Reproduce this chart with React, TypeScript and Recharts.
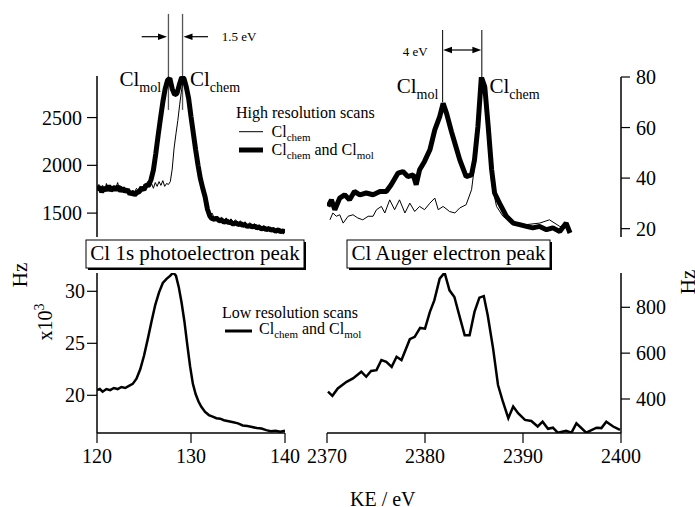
import React from 'react';
import { LineChart, Line, XAxis, YAxis, ReferenceLine } from 'recharts';

const FONT = '"Liberation Serif", "Times New Roman", serif';
const W = 695;
const H = 507;

// ---- categories / axes ----
const photoXTicks = [120, 130, 140];
const augerXTicks = [2370, 2380, 2390, 2400];
const hiPhotoYTicks = [1500, 2000, 2500];
const hiAugerYTicks = [20, 40, 60, 80];
const loPhotoYTicks = [20, 25, 30];
const loAugerYTicks = [400, 600, 800];

// ---- High resolution, Cl 1s photoelectron (KE eV, Hz) ----
const hiPhotoBoth: [number, number][] = [
  [120.0, 1740], [120.25, 1775], [120.5, 1720], [120.75, 1765], [121.0, 1740], [121.25, 1785],
  [121.5, 1735], [121.75, 1770], [122.0, 1745], [122.25, 1780], [122.5, 1730], [122.75, 1760],
  [123.0, 1725], [123.25, 1745], [123.5, 1700], [123.75, 1720], [124.0, 1690], [124.25, 1715],
  [124.5, 1725], [124.75, 1765], [125.0, 1745], [125.25, 1795], [125.5, 1790], [125.75, 1850],
  [126.0, 1950], [126.25, 2120], [126.5, 2310], [126.75, 2490], [127.0, 2660], [127.25, 2800],
  [127.5, 2890], [127.75, 2910], [128.0, 2800], [128.25, 2740], [128.5, 2750], [128.75, 2840],
  [129.0, 2920], [129.25, 2910], [129.5, 2820], [129.75, 2700], [130.0, 2510], [130.25, 2335],
  [130.5, 2160], [130.75, 2000], [131.0, 1860], [131.25, 1760], [131.5, 1670], [131.75, 1540],
  [132.0, 1470], [132.2, 1445], [132.5, 1435], [132.7, 1450], [133.0, 1420], [133.3, 1425],
  [133.5, 1405], [133.8, 1420], [134.0, 1400], [134.2, 1405], [134.5, 1385], [134.8, 1400],
  [135.0, 1380], [135.3, 1390], [135.5, 1370], [135.7, 1380], [136.0, 1360], [136.3, 1370],
  [136.5, 1355], [136.8, 1365], [137.0, 1345], [137.2, 1355], [137.5, 1335], [137.8, 1345],
  [138.0, 1325], [138.3, 1340], [138.5, 1320], [138.7, 1330], [139.0, 1310], [139.3, 1325],
  [139.5, 1305], [139.8, 1315], [140.0, 1295],
];

const hiPhotoChem: [number, number][] = [
  [120.0, 1760], [120.2, 1800], [120.4, 1740], [120.6, 1790], [120.8, 1730], [121.0, 1810],
  [121.2, 1750], [121.4, 1770], [121.6, 1720], [121.8, 1790], [122.0, 1760], [122.2, 1820],
  [122.4, 1740], [122.6, 1780], [122.8, 1730], [123.0, 1760], [123.2, 1710], [123.4, 1750],
  [123.6, 1700], [123.8, 1740], [124.0, 1720], [124.2, 1760], [124.4, 1730], [124.6, 1780],
  [124.8, 1740], [125.0, 1800], [125.2, 1760], [125.4, 1830], [125.6, 1770], [125.8, 1810],
  [126.0, 1760], [126.2, 1820], [126.4, 1780], [126.6, 1830], [126.8, 1790], [127.0, 1840],
  [127.2, 1780], [127.4, 1810], [127.6, 1800], [127.8, 1830], [128.0, 1960], [128.2, 2180],
  [128.4, 2330], [128.6, 2470], [128.8, 2640], [129.0, 2790], [129.2, 2900], [129.4, 2830],
  [129.6, 2730], [129.8, 2600], [130.0, 2450], [130.25, 2300], [130.5, 2140], [130.75, 1980],
  [131.0, 1840], [131.25, 1740], [131.5, 1650], [131.75, 1530], [132.0, 1480], [132.25, 1500],
  [132.5, 1440], [132.75, 1470], [133.0, 1430], [133.25, 1460], [133.5, 1420], [133.75, 1450],
  [134.0, 1400], [134.25, 1440], [134.5, 1410], [134.75, 1430], [135.0, 1390], [135.25, 1420],
  [135.5, 1380], [135.75, 1410], [136.0, 1370], [136.25, 1400], [136.5, 1360], [136.75, 1390],
  [137.0, 1350], [137.25, 1380], [137.5, 1340], [137.75, 1370], [138.0, 1330], [138.25, 1360],
  [138.5, 1320], [138.75, 1350], [139.0, 1310], [139.25, 1340], [139.5, 1300], [139.75, 1330],
  [140.0, 1300],
];

// ---- High resolution, Cl Auger (KE eV, Hz) ----
const hiAugerBoth: [number, number][] = [
  [2370.1, 28.8], [2370.45, 31.4], [2370.8, 27.5], [2371.3, 32.1], [2371.8, 33.4], [2372.3, 31.4],
  [2372.8, 34.7], [2373.35, 33.4], [2374.0, 34.1], [2374.7, 33.4], [2375.4, 34.7], [2376.05, 34.7],
  [2376.55, 37.4], [2377.25, 42.0], [2377.75, 42.6], [2378.25, 40.6], [2378.8, 41.3], [2379.1, 37.4],
  [2379.45, 43.3], [2379.95, 46.6], [2380.5, 51.2], [2381.0, 59.1], [2381.5, 64.3], [2381.85, 69.6],
  [2382.2, 65.6], [2382.7, 58.4], [2383.05, 53.8], [2383.55, 47.2], [2384.2, 40.6], [2384.75, 41.3],
  [2385.05, 47.2], [2385.4, 60.4], [2385.75, 80.0], [2386.1, 76.1], [2386.45, 60.4], [2386.8, 43.3],
  [2387.1, 34.1], [2387.6, 30.1], [2388.3, 24.9], [2389.0, 22.2], [2389.65, 21.6], [2390.35, 20.9],
  [2391.0, 20.3], [2391.7, 20.9], [2392.4, 19.6], [2393.05, 20.3], [2393.75, 18.9], [2394.4, 22.2],
  [2394.8, 18.3],
];

const hiAugerChem: [number, number][] = [
  [2370.3, 23.5], [2370.6, 26.2], [2370.95, 24.9], [2371.3, 25.5], [2371.65, 22.2], [2372.15, 24.9],
  [2372.65, 25.5], [2373.15, 24.2], [2373.65, 23.5], [2374.2, 24.9], [2374.7, 24.9], [2375.05, 27.5],
  [2375.55, 28.8], [2375.9, 26.2], [2376.4, 31.4], [2376.9, 27.5], [2377.4, 31.4], [2377.95, 26.2],
  [2378.45, 30.1], [2378.95, 26.8], [2379.45, 28.8], [2379.95, 27.5], [2380.5, 30.1], [2381.0, 32.1],
  [2381.35, 27.5], [2381.85, 28.8], [2382.5, 26.8], [2383.05, 26.2], [2383.55, 28.2], [2384.2, 29.5],
  [2384.75, 35.4], [2385.05, 44.6], [2385.4, 60.4], [2385.75, 74.8], [2386.1, 72.2], [2386.45, 53.8],
  [2386.8, 38.0], [2387.3, 28.8], [2387.95, 24.9], [2389.0, 22.2], [2390.35, 21.6], [2391.7, 22.2],
  [2392.7, 23.5], [2393.75, 20.9], [2394.8, 20.3],
];

// ---- Low resolution, Cl 1s photoelectron (KE eV, Hz x10^3) ----
const loPhoto: [number, number][] = [
  [120.0, 20.5], [120.3, 20.6], [120.6, 20.35], [121.0, 20.6], [121.4, 20.5], [121.8, 20.7],
  [122.2, 20.6], [122.6, 20.8], [123.0, 20.7], [123.4, 20.9], [123.8, 21.1], [124.2, 21.6],
  [124.6, 22.5], [125.0, 23.8], [125.4, 25.4], [125.8, 27.1], [126.2, 28.7], [126.6, 29.9],
  [127.0, 30.8], [127.4, 31.2], [127.8, 31.5], [128.1, 31.8], [128.4, 31.5], [128.7, 30.4],
  [129.0, 28.9], [129.3, 27.1], [129.6, 24.9], [129.9, 22.8], [130.2, 21.1], [130.5, 20.1],
  [130.8, 19.4], [131.1, 18.9], [131.5, 18.4], [131.9, 18.1], [132.3, 17.95], [132.7, 17.8],
  [133.1, 17.75], [133.5, 17.6], [134.0, 17.5], [134.5, 17.4], [135.0, 17.3], [135.5, 17.1],
  [136.0, 17.05], [136.5, 16.95], [137.0, 16.85], [137.5, 16.8], [138.0, 16.65], [138.5, 16.55],
  [139.0, 16.6], [139.5, 16.5], [140.0, 16.6],
];

// ---- Low resolution, Cl Auger (KE eV, Hz) ----
const loAuger: [number, number][] = [
  [2370.1, 432], [2370.55, 414], [2371.1, 446], [2372.0, 475], [2372.65, 490], [2373.5, 519],
  [2374.0, 497], [2374.5, 522], [2375.05, 526], [2375.55, 570], [2376.05, 562], [2376.6, 540],
  [2377.1, 584], [2377.6, 570], [2378.45, 661], [2378.95, 671], [2379.5, 710], [2380.0, 707],
  [2380.5, 780], [2380.95, 830], [2381.5, 925], [2382.0, 951], [2382.5, 874], [2383.0, 845],
  [2383.5, 765], [2384.05, 678], [2384.55, 678], [2385.05, 780], [2385.55, 842], [2386.0, 849],
  [2386.4, 765], [2386.95, 620], [2387.45, 461], [2387.95, 388], [2388.5, 316], [2389.0, 367],
  [2389.5, 338], [2390.2, 309], [2390.85, 304], [2391.5, 280], [2392.0, 301], [2392.55, 270],
  [2393.05, 275], [2393.55, 253], [2394.4, 261], [2394.95, 253], [2395.45, 294], [2396.45, 253],
  [2397.5, 275], [2398.0, 273], [2398.5, 301], [2399.2, 280], [2399.9, 265],
];

const pts = (a: [number, number][]) => a.map(([x, y]) => ({ x, y }));

const tickStyle = { fill: '#000', fontSize: 20, fontFamily: FONT };
const axLine = { stroke: '#000', strokeWidth: 1.5 };
const tkLine = { stroke: '#000', strokeWidth: 1.2 };
const layer: React.CSSProperties = { position: 'absolute', left: 0, top: 0 };
const chartStyle: React.CSSProperties = { fontFamily: FONT };

function Cl({ x, y, sub, size, subSize, rest }: { x: number; y: number; sub: string; size: number; subSize: number; rest?: React.ReactNode }) {
  const d = Math.round(size * 0.28);
  return (
    <text x={x} y={y} fontSize={size} fill="#000">
      Cl<tspan dy={d} fontSize={subSize}>{sub}</tspan>
      {rest ? <tspan dy={-d}>{rest}</tspan> : null}
    </text>
  );
}

export default function App() {
  return (
    <div style={{ position: 'absolute', left: 0, top: 0, width: W, height: H, background: '#fff', fontFamily: FONT }}>
      <style>{`.recharts-text, .recharts-cartesian-axis-tick-value, svg text { font-family: ${FONT}; }`}</style>
      {/* top-left: high resolution photoelectron */}
      <div style={layer}>
        <LineChart width={W} height={H} style={chartStyle} margin={{ top: 76, right: 410, bottom: 270, left: 37 }}>
          <XAxis type="number" dataKey="x" domain={[120, 140]} hide allowDataOverflow />
          <YAxis type="number" dataKey="y" domain={[1250, 2935]} ticks={hiPhotoYTicks} width={60}
            tickSize={10} tickMargin={5} axisLine={axLine} tickLine={tkLine} tick={tickStyle} allowDataOverflow />
          <ReferenceLine segment={[{ x: 127.6, y: 2580 }, { x: 127.6, y: 3585 }]} ifOverflow="visible" stroke="#555" strokeWidth={1.3} />
          <ReferenceLine segment={[{ x: 129.1, y: 2580 }, { x: 129.1, y: 3585 }]} ifOverflow="visible" stroke="#555" strokeWidth={1.3} />
          <Line data={pts(hiPhotoBoth)} dataKey="y" type="linear" stroke="#000" strokeWidth={5} dot={false} isAnimationActive={false} strokeLinejoin="bevel" />
          <Line data={pts(hiPhotoChem)} dataKey="y" type="linear" stroke="#000" strokeWidth={1} dot={false} isAnimationActive={false} />
        </LineChart>
      </div>

      {/* top-right: high resolution Auger */}
      <div style={layer}>
        <LineChart width={W} height={H} style={chartStyle} margin={{ top: 77, right: 14, bottom: 270, left: 327 }}>
          <XAxis type="number" dataKey="x" domain={[2370, 2400]} hide allowDataOverflow />
          <YAxis orientation="right" type="number" dataKey="y" domain={[16.7, 80]} ticks={hiAugerYTicks} width={60}
            tickSize={9} tickMargin={6} axisLine={axLine} tickLine={tkLine} tick={tickStyle} allowDataOverflow />
          <ReferenceLine segment={[{ x: 2381.8, y: 70 }, { x: 2381.8, y: 98.6 }]} ifOverflow="visible" stroke="#000" strokeWidth={1} />
          <ReferenceLine segment={[{ x: 2385.8, y: 80 }, { x: 2385.8, y: 98.6 }]} ifOverflow="visible" stroke="#000" strokeWidth={1} />
          <Line data={pts(hiAugerChem)} dataKey="y" type="linear" stroke="#000" strokeWidth={1} dot={false} isAnimationActive={false} />
          <Line data={pts(hiAugerBoth)} dataKey="y" type="linear" stroke="#000" strokeWidth={5} dot={false} isAnimationActive={false} strokeLinejoin="bevel" />
        </LineChart>
      </div>

      {/* bottom-left: low resolution photoelectron */}
      <div style={layer}>
        <LineChart width={W} height={H} style={chartStyle} margin={{ top: 273, right: 410, bottom: 44, left: 37 }}>
          <XAxis type="number" dataKey="x" domain={[120, 140]} ticks={photoXTicks} height={30}
            tickSize={10} tickMargin={6} axisLine={axLine} tickLine={tkLine} tick={tickStyle} allowDataOverflow />
          <YAxis type="number" dataKey="y" domain={[16.375, 31.76]} ticks={loPhotoYTicks} width={60}
            tickSize={10} tickMargin={2} axisLine={axLine} tickLine={tkLine} tick={tickStyle} allowDataOverflow />
          <Line data={pts(loPhoto)} dataKey="y" type="linear" stroke="#000" strokeWidth={2.5} dot={false} isAnimationActive={false} />
        </LineChart>
      </div>

      {/* bottom-right: low resolution Auger */}
      <div style={layer}>
        <LineChart width={W} height={H} style={chartStyle} margin={{ top: 273, right: 14, bottom: 44, left: 327 }}>
          <XAxis type="number" dataKey="x" domain={[2370, 2400]} ticks={augerXTicks} height={30}
            tickSize={10} tickMargin={6} axisLine={axLine} tickLine={tkLine} tick={tickStyle} allowDataOverflow />
          <YAxis orientation="right" type="number" dataKey="y" domain={[251.7, 949.6]} ticks={loAugerYTicks} width={60}
            tickSize={9} tickMargin={6} axisLine={axLine} tickLine={tkLine} tick={tickStyle} allowDataOverflow />
          <Line data={pts(loAuger)} dataKey="y" type="linear" stroke="#000" strokeWidth={2.5} dot={false} isAnimationActive={false} />
        </LineChart>
      </div>

      {/* annotations */}
      <svg width={W} height={H} style={{ ...layer, pointerEvents: 'none' }} fontFamily={FONT}>
        {/* 1.5 eV arrows */}
        <line x1={141.7} y1={36.7} x2={160} y2={36.7} stroke="#000" strokeWidth={1.2} />
        <polygon points="167,36.7 158,33.5 158,39.9" fill="#000" />
        <line x1={208} y1={36.7} x2={190} y2={36.7} stroke="#000" strokeWidth={1.2} />
        <polygon points="183.5,36.7 192.5,33.5 192.5,39.9" fill="#000" />
        <text x={221.7} y={41} fontSize={13} fill="#000">1.5 eV</text>

        {/* 4 eV arrow */}
        <line x1={450} y1={50} x2={474} y2={50} stroke="#000" strokeWidth={1.2} />
        <polygon points="443.2,50 452,46.8 452,53.2" fill="#000" />
        <polygon points="481.2,50 472.4,46.8 472.4,53.2" fill="#000" />
        <text x={402.7} y={56} fontSize={13} fill="#000">4 eV</text>

        {/* peak labels */}
        <Cl x={119.5} y={86} sub="mol" size={21} subSize={14} />
        <Cl x={190} y={86} sub="chem" size={21} subSize={14} />
        <Cl x={396.7} y={93} sub="mol" size={21} subSize={14} />
        <Cl x={489.5} y={93} sub="chem" size={21} subSize={14} />

        {/* high-res legend */}
        <text x={236} y={118} fontSize={16} fill="#000">High resolution scans</text>
        <line x1={239} y1={131.7} x2={263} y2={131.7} stroke="#000" strokeWidth={1} />
        <Cl x={271.5} y={136.5} sub="chem" size={16} subSize={11} />
        <line x1={239} y1={150} x2={263} y2={150} stroke="#000" strokeWidth={5} />
        <Cl x={271.5} y={155} sub="chem" size={16} subSize={11} rest={<>
          {' and Cl'}<tspan dy={4} fontSize={11}>mol</tspan>
        </>} />

        {/* low-res legend */}
        <text x={222} y={318} fontSize={16} fill="#000">Low resolution scans</text>
        <line x1={225} y1={331} x2={252} y2={331} stroke="#000" strokeWidth={3} />
        <Cl x={259} y={334} sub="chem" size={16} subSize={11} rest={<>
          {' and Cl'}<tspan dy={4} fontSize={11}>mol</tspan>
        </>} />

        {/* boxed titles */}
        <rect x={88} y={242} width={218} height={28} fill="#000" />
        <rect x={86} y={240} width={218} height={28} fill="#fff" stroke="#000" strokeWidth={1} />
        <text x={195} y={260} fontSize={21} fill="#000" textAnchor="middle">Cl 1s photoelectron peak</text>
        <rect x={349} y={242} width={203} height={28} fill="#000" />
        <rect x={347} y={240} width={203} height={28} fill="#fff" stroke="#000" strokeWidth={1} />
        <text x={448.5} y={260} fontSize={21} fill="#000" textAnchor="middle">Cl Auger electron peak</text>

        {/* axis titles */}
        <text transform="translate(27,275) rotate(-90)" fontSize={21} fill="#000" textAnchor="middle">Hz</text>
        <text transform="translate(52,322) rotate(-90)" fontSize={20} fill="#000" textAnchor="middle">
          x10<tspan dy={-8} fontSize={14}>3</tspan>
        </text>
        <text transform="translate(695,282) rotate(-90)" fontSize={21} fill="#000" textAnchor="middle">Hz</text>
        <text x={350} y={506} fontSize={20} fill="#000">KE / eV</text>
      </svg>
    </div>
  );
}
